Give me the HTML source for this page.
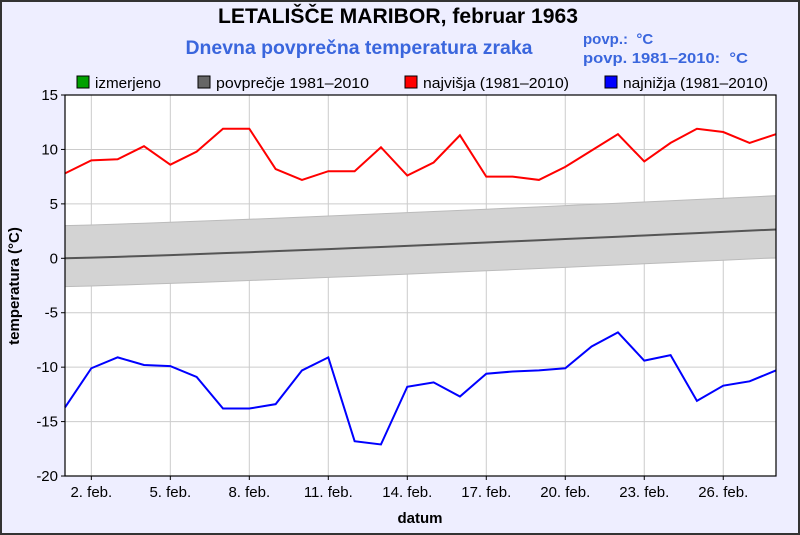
<!DOCTYPE html>
<html><head><meta charset="utf-8"><style>
body{margin:0;background:#fff}
svg{display:block;font-family:"Liberation Sans",sans-serif}
</style></head><body>
<svg width="800" height="535" viewBox="0 0 800 535" xmlns="http://www.w3.org/2000/svg">
<rect x="1" y="1" width="798" height="533" fill="#eeeeff" stroke="#333" stroke-width="2"/>
<text x="398" y="23" text-anchor="middle" font-size="21" font-weight="bold" fill="#000" textLength="360" lengthAdjust="spacingAndGlyphs">LETALIŠČE MARIBOR, februar 1963</text>
<text x="359" y="54" text-anchor="middle" font-size="19" font-weight="bold" fill="#3a66dd" textLength="347" lengthAdjust="spacingAndGlyphs">Dnevna povprečna temperatura zraka</text>
<text x="583" y="44" font-size="15" font-weight="bold" fill="#3a66dd">povp.:&#160;&#160;°C</text>
<text x="583" y="63" font-size="15" font-weight="bold" fill="#3a66dd" textLength="165" lengthAdjust="spacingAndGlyphs">povp. 1981–2010:&#160;&#160;°C</text>
<g font-size="15" fill="#000">
<rect x="77" y="76" width="12" height="12" fill="#00a000" stroke="#000"/><text x="95" y="88" textLength="66" lengthAdjust="spacingAndGlyphs">izmerjeno</text>
<rect x="198" y="76" width="12" height="12" fill="#666" stroke="#000"/><text x="216" y="88" textLength="153" lengthAdjust="spacingAndGlyphs">povprečje 1981–2010</text>
<rect x="405" y="76" width="12" height="12" fill="#ff0000" stroke="#000"/><text x="423" y="88" textLength="146" lengthAdjust="spacingAndGlyphs">najvišja (1981–2010)</text>
<rect x="605" y="76" width="12" height="12" fill="#0000ff" stroke="#000"/><text x="623" y="88" textLength="145" lengthAdjust="spacingAndGlyphs">najnižja (1981–2010)</text>
</g>
<rect x="65" y="95" width="711" height="381" fill="#fff"/>
<g id="grid" stroke="#cccccc" stroke-width="1"></g>
<g id="band"></g>
<g id="lines"></g>
<rect x="65" y="95" width="711" height="381" fill="none" stroke="#000" stroke-width="1.2"/>
<g id="labels" font-size="15" fill="#000"></g>
<text x="420" y="523" text-anchor="middle" font-size="15" font-weight="bold">datum</text>
<text transform="translate(19,286) rotate(-90)" text-anchor="middle" font-size="15" font-weight="bold">temperatura (°C)</text>
</svg>
<script>
(function(){
var NS="http://www.w3.org/2000/svg";
function X(d){return 65+(d-1)*26.33;}
function Y(v){return 258.3-v*10.886;}
function el(p,t,a,txt){var e=document.createElementNS(NS,t);for(var k in a)e.setAttribute(k,a[k]);if(txt!=null)e.textContent=txt;document.getElementById(p).appendChild(e);}
for(var v=-20;v<=15;v+=5){el("grid","line",{x1:65,x2:776,y1:Y(v),y2:Y(v)});el("labels","line",{x1:61,x2:65,y1:Y(v),y2:Y(v),stroke:"#000"});el("labels","text",{x:58,y:Y(v)+5,"text-anchor":"end"},v);}
for(var d=2;d<=26;d+=3){el("grid","line",{x1:X(d),x2:X(d),y1:95,y2:476});el("labels","line",{x1:X(d),x2:X(d),y1:476,y2:480,stroke:"#000"});el("labels","text",{x:X(d),y:497,"text-anchor":"middle"},d+". feb.");}
var hi=[7.8,9.0,9.1,10.3,8.6,9.8,11.9,11.9,8.2,7.2,8.0,8.0,10.2,7.6,8.8,11.3,7.5,7.5,7.2,8.4,9.9,11.4,8.9,10.6,11.9,11.6,10.6,11.4];
var lo=[-13.7,-10.1,-9.1,-9.8,-9.9,-10.9,-13.8,-13.8,-13.4,-10.3,-9.1,-16.8,-17.1,-11.8,-11.4,-12.7,-10.6,-10.4,-10.3,-10.1,-8.1,-6.8,-9.4,-8.9,-13.1,-11.7,-11.3,-10.3];
function avg(d){return 2.65*Math.pow((d-1)/27,1.15);}
function up(d){return avg(d)+3.0+0.1*(d-1)/27;}
function dn(d){return avg(d)-2.6;}
var tp=[],bt=[],md=[];
for(var d=1;d<=28;d++){tp.push(X(d)+","+Y(up(d)));bt.unshift(X(d)+","+Y(dn(d)));md.push(X(d)+","+Y(avg(d)));}
el("band","polygon",{points:tp.concat(bt).join(" "),fill:"#d3d3d3",stroke:"#bbb","stroke-width":1});
el("lines","polyline",{points:md.join(" "),fill:"none",stroke:"#555","stroke-width":2});
el("lines","polyline",{points:hi.map(function(v,i){return X(i+1)+","+Y(v);}).join(" "),fill:"none",stroke:"#ff0000","stroke-width":2});
el("lines","polyline",{points:lo.map(function(v,i){return X(i+1)+","+Y(v);}).join(" "),fill:"none",stroke:"#0000ff","stroke-width":2});
})();
</script>
</body></html>
